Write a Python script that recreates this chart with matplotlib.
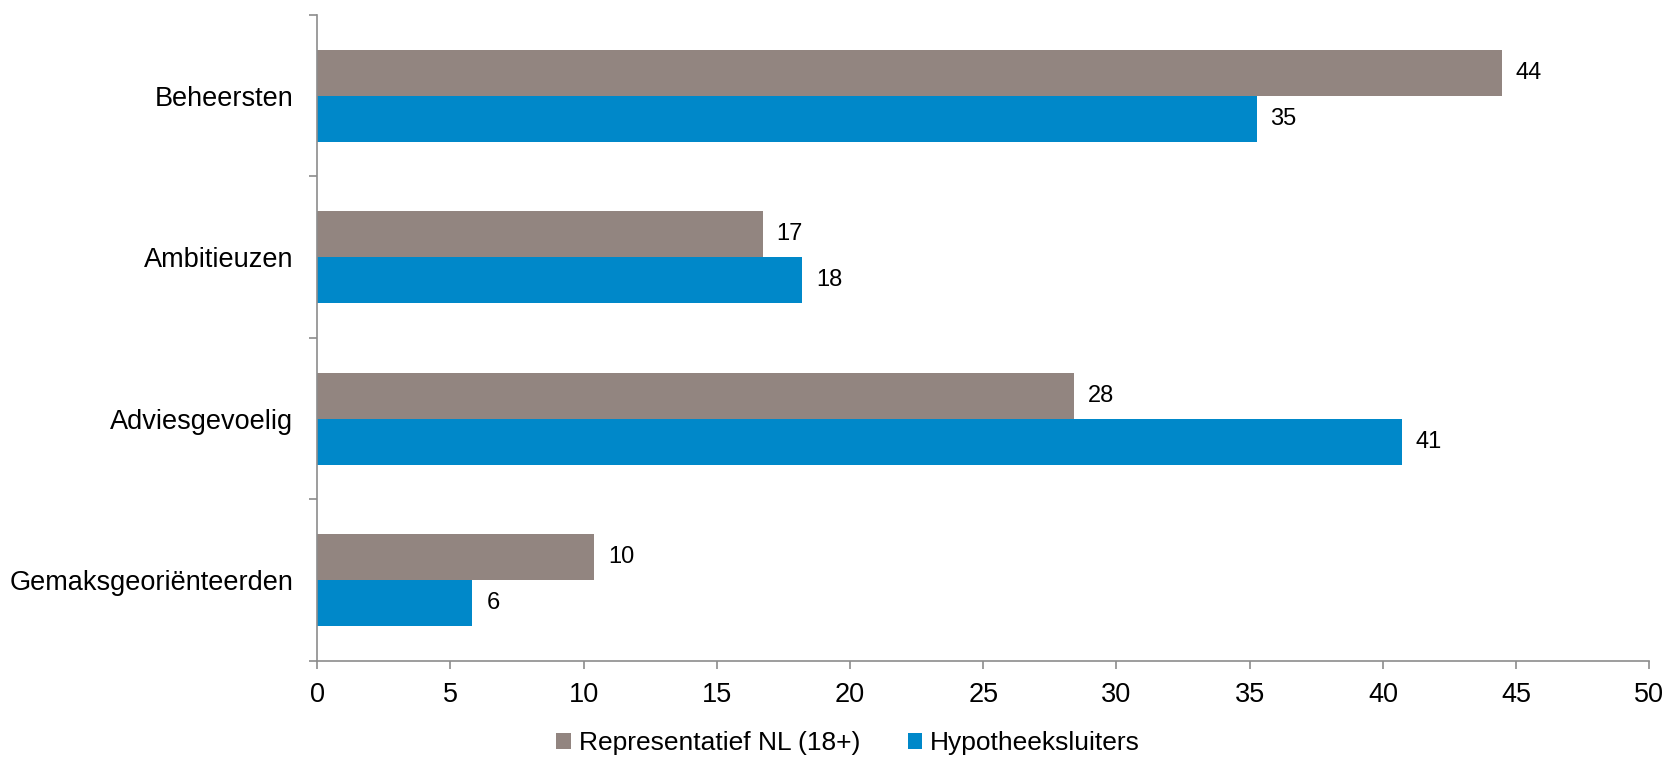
import numpy as np
import matplotlib
matplotlib.use("Agg")
import matplotlib.pyplot as plt

plt.rcParams['font.family'] = ['Liberation Sans', 'DejaVu Sans']

categories = ["Beheersten", "Ambitieuzen", "Adviesgevoelig", "Gemaksgeoriënteerden"]
representatief = [44.47, 16.72, 28.40, 10.41]
hypotheeksluiters = [35.26, 18.21, 40.72, 5.83]
series_names = ["Representatief NL (18+)", "Hypotheeksluiters"]
x_ticks = [0, 5, 10, 15, 20, 25, 30, 35, 40, 45, 50]

gray = "#928580"
blue = "#0088C9"
axis_col = "#8C8C8C"

fig = plt.figure(figsize=(16.67, 7.57), dpi=100)
ax = fig.add_axes([0.1902, 0.1272, 0.7992, 0.853])

y = np.arange(len(categories))
h = 0.285
b1 = ax.barh(y - h / 2, representatief, height=h, color=gray, label=series_names[0])
b2 = ax.barh(y + h / 2, hypotheeksluiters, height=h, color=blue, label=series_names[1])

for bars, vals in ((b1, representatief), (b2, hypotheeksluiters)):
    ax.bar_label(bars, labels=["%.0f" % v for v in vals], padding=10, fontsize=17)

ax.set_xlim(0, 50)
ax.set_ylim(len(categories) - 0.5, -0.5)
ax.set_xticks(x_ticks)
ax.set_xticklabels([str(t) for t in x_ticks], fontsize=19.5)
ax.set_yticks(y)
ax.set_yticklabels(categories, fontsize=19.5)
ax.set_yticks(np.arange(-0.5, len(categories)), minor=True)

ax.tick_params(axis='y', which='major', length=0, pad=17)
ax.tick_params(axis='y', which='minor', length=6, color=axis_col, width=1.2)
ax.tick_params(axis='x', which='major', length=5.5, color=axis_col, width=1.2, pad=10)

for s in ("top", "right"):
    ax.spines[s].set_visible(False)
for s in ("left", "bottom"):
    ax.spines[s].set_color(axis_col)
    ax.spines[s].set_linewidth(1.2)

fig.legend(handles=[b1, b2], labels=series_names, loc='center',
           bbox_to_anchor=(848 / 1667, 1 - 743 / 757), ncol=2, frameon=False,
           fontsize=19, handlelength=0.55, handleheight=0.55, handletextpad=0.3,
           columnspacing=1.8)

fig.savefig("out.png", dpi=100)
